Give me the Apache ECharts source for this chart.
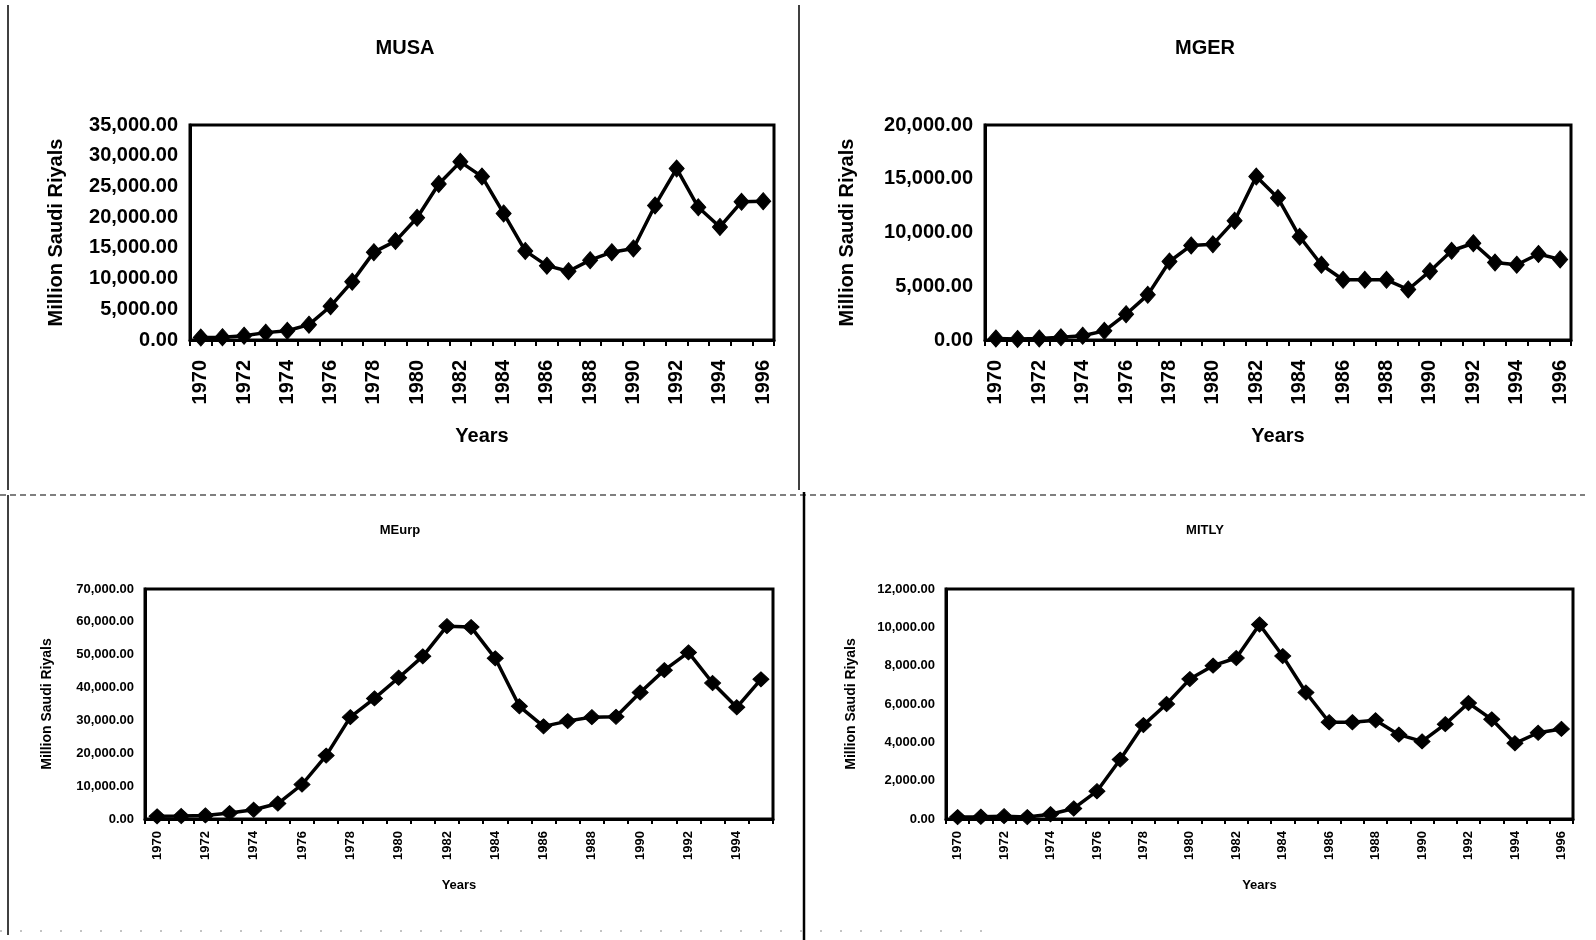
<!DOCTYPE html>
<html>
<head>
<meta charset="utf-8">
<script src="https://cdn.jsdelivr.net/npm/echarts@6.0.0/dist/echarts.min.js"></script>
<style>
html,body{margin:0;padding:0;background:#fff;}
#chart{width:1596px;height:940px;}
</style>
</head>
<body>
<div id="chart"></div>
<script>
// ---- data ----
const yearsFull = ['1970','1971','1972','1973','1974','1975','1976','1977','1978','1979','1980','1981','1982','1983','1984','1985','1986','1987','1988','1989','1990','1991','1992','1993','1994','1995','1996'];
const yearsEurp = ['1970','1971','1972','1973','1974','1975','1976','1977','1978','1979','1980','1981','1982','1983','1984','1985','1986','1987','1988','1989','1990','1991','1992','1993','1994','1995'];

const titles = ['MUSA', 'MGER', 'MEurp', 'MITLY'];
const yAxisName = 'Million Saudi Riyals';
const xAxisName = 'Years';

const musa  = [400, 450, 700, 1200, 1500, 2500, 5500, 9500, 14300, 16100, 19900, 25400, 29000, 26600, 20600, 14500, 12100, 11200, 13000, 14300, 14900, 21900, 27900, 21600, 18400, 22500, 22600];
const mger  = [150, 100, 150, 250, 400, 850, 2400, 4200, 7300, 8800, 8900, 11100, 15200, 13200, 9600, 7000, 5600, 5600, 5600, 4700, 6400, 8300, 9000, 7200, 7000, 8000, 7500];
const meurp = [800, 900, 1100, 1800, 2800, 4700, 10500, 19300, 31000, 36700, 43000, 49500, 58700, 58400, 48900, 34300, 28200, 29800, 31000, 31100, 38500, 45300, 50700, 41400, 34000, 42500];
const mitly = [100, 120, 150, 100, 250, 550, 1450, 3100, 4900, 6000, 7300, 8000, 8400, 10150, 8500, 6600, 5050, 5050, 5150, 4400, 4050, 4950, 6050, 5200, 3950, 4500, 4700];

const yMax      = [35000, 20000, 70000, 12000];
const yInterval = [5000, 5000, 10000, 2000];

// ---- layout / style ----
const FONT = "'Liberation Sans', Arial, sans-serif";
const grids = [
  {left: 190, top: 125, width: 584, height: 215},
  {left: 985, top: 125, width: 586, height: 215},
  {left: 145, top: 589, width: 628, height: 230},
  {left: 946, top: 589, width: 627, height: 230}
];
const big = [true, true, false, false];
const cats = [yearsFull, yearsFull, yearsEurp, yearsFull];
const seriesData = [musa, mger, meurp, mitly];
const yNameGap = [124, 128, 91, 88];
const titlePos = [[405, 38], [1205, 38], [400, 524], [1205, 524]];

function fmt(v){
  return v.toLocaleString('en-US', {minimumFractionDigits: 2, maximumFractionDigits: 2});
}

const option = {
  animation: false,
  backgroundColor: '#ffffff',
  title: titles.map((t, i) => ({
    text: t,
    left: titlePos[i][0],
    top: titlePos[i][1],
    textAlign: 'center',
    padding: 0,
    textStyle: {
      fontFamily: FONT,
      fontWeight: 'bold',
      fontSize: big[i] ? 20 : 13,
      color: '#000'
    }
  })),
  grid: grids.map(g => Object.assign({
    show: true,
    borderColor: '#000',
    borderWidth: 3,
    backgroundColor: 'transparent',
    containLabel: false,
    outerBoundsMode: 'none'
  }, g)),
  xAxis: cats.map((c, i) => ({
    type: 'category',
    gridIndex: i,
    data: c,
    boundaryGap: true,
    name: xAxisName,
    nameLocation: 'middle',
    nameGap: big[i] ? 86 : 60,
    nameTextStyle: {fontFamily: FONT, fontWeight: 'bold', fontSize: big[i] ? 20 : 13, color: '#000'},
    axisLine: {show: true, lineStyle: {color: '#000', width: 3}},
    axisTick: {show: true, interval: 0, alignWithLabel: false, inside: false, length: big[i] ? 6 : 5, lineStyle: {color: '#000', width: 2}},
    axisLabel: {
      interval: 1,
      rotate: 90,
      margin: big[i] ? 20 : 12,
      fontFamily: FONT,
      fontWeight: 'bold',
      fontSize: big[i] ? 20 : 13,
      color: '#000',
      hideOverlap: false
    },
    splitLine: {show: false}
  })),
  yAxis: yMax.map((m, i) => ({
    type: 'value',
    gridIndex: i,
    min: 0,
    max: m,
    interval: yInterval[i],
    name: yAxisName,
    nameLocation: 'middle',
    nameRotate: 90,
    nameGap: yNameGap[i],
    nameTextStyle: {fontFamily: FONT, fontWeight: 'bold', fontSize: big[i] ? 20 : 14, color: '#000'},
    axisLine: {show: true, lineStyle: {color: '#000', width: 3}},
    axisTick: {show: false},
    splitLine: {show: false},
    axisLabel: {
      formatter: fmt,
      margin: big[i] ? 12 : 11,
      fontFamily: FONT,
      fontWeight: 'bold',
      fontSize: big[i] ? 20 : 13,
      color: '#000'
    }
  })),
  series: seriesData.map((d, i) => ({
    type: 'line',
    xAxisIndex: i,
    yAxisIndex: i,
    data: d,
    symbol: 'diamond',
    symbolSize: big[i] ? [15, 17] : [16, 15],
    showAllSymbol: true,
    clip: false,
    lineStyle: {color: '#000', width: 3.5},
    itemStyle: {color: '#000', borderColor: '#000'},
    emphasis: {disabled: true}
  })),
  graphic: [
    {type: 'line', shape: {x1: 8, y1: 5, x2: 8, y2: 490}, style: {stroke: '#000', lineWidth: 1.5}, silent: true},
    {type: 'line', shape: {x1: 799, y1: 5, x2: 799, y2: 490}, style: {stroke: '#000', lineWidth: 1.5}, silent: true},
    {type: 'line', shape: {x1: 0, y1: 495, x2: 1585, y2: 495}, style: {stroke: '#555', lineWidth: 1.5, lineDash: [6, 4]}, silent: true},
    {type: 'line', shape: {x1: 8, y1: 495, x2: 8, y2: 935}, style: {stroke: '#000', lineWidth: 1.5}, silent: true},
    {type: 'line', shape: {x1: 804, y1: 492, x2: 804, y2: 940}, style: {stroke: '#000', lineWidth: 2.5}, silent: true},
    {type: 'line', shape: {x1: 0, y1: 931, x2: 1000, y2: 931}, style: {stroke: '#888', lineWidth: 1, lineDash: [2, 18]}, silent: true}
  ]
};

const chart = echarts.init(document.getElementById('chart'), null, {renderer: 'canvas'});
chart.setOption(option);
</script>
</body>
</html>
